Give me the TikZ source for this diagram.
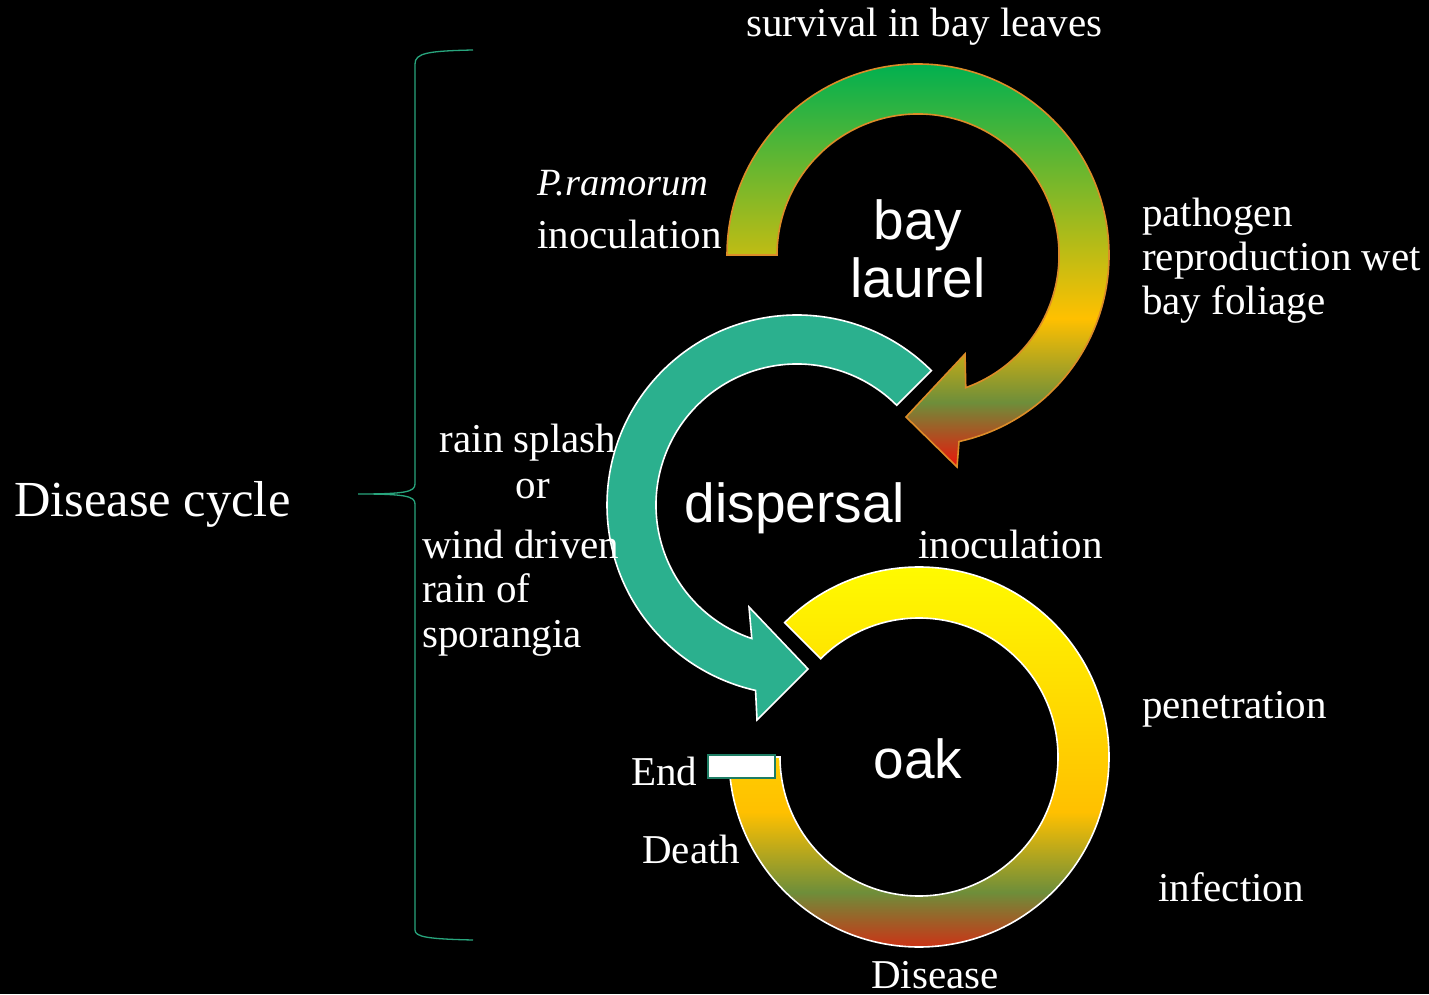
\documentclass[tikz,border=0pt]{standalone}
\usepackage{fontspec}
\setmainfont{Liberation Serif}
\newfontfamily\sansf{Liberation Sans}
\definecolor{tealc}{RGB}{43,176,142}
\definecolor{bracec}{RGB}{40,165,125}
\definecolor{bayline}{RGB}{220,140,40}
\definecolor{endline}{RGB}{30,125,100}
\definecolor{redc}{RGB}{235,20,10}
\definecolor{olivec}{RGB}{110,142,58}
\definecolor{orangec}{RGB}{255,192,0}
\definecolor{greenc}{RGB}{0,176,80}
\definecolor{yellowc}{RGB}{255,255,0}
\pgfdeclareverticalshading{bayshade}{100bp}{color(0bp)=(redc); color(25bp)=(redc); color(33bp)=(olivec); color(43.4bp)=(orangec); color(75bp)=(greenc); color(100bp)=(greenc)}
\pgfdeclareverticalshading{oakshade}{100bp}{color(0bp)=(redc); color(25bp)=(redc); color(33.8bp)=(olivec); color(43.4bp)=(orangec); color(75bp)=(yellowc); color(100bp)=(yellowc)}
\tikzset{
  serif/.style={text=white, inner sep=0pt, font=\fontsize{41}{45}\selectfont},
  italserif/.style={text=white, inner sep=0pt, font=\fontsize{38.5}{42}\selectfont\itshape},
  bigserif/.style={text=white, inner sep=0pt, font=\fontsize{50.5}{55}\selectfont},
  sanslbl/.style={text=white, inner sep=0pt, font=\sansf\fontsize{55}{60}\selectfont},
  ring/.style={line width=1.6pt, line join=miter},
  bracestyle/.style={draw=bracec, line width=1.3pt},
}
\begin{document}
\begin{tikzpicture}[x=1pt,y=1pt]
\fill[black] (0,0) rectangle (1429,994);
\useasboundingbox (0,0) rectangle (1429,994);
\coordinate (B) at (918,739);
\coordinate (D) at (797,489);
\coordinate (O) at (919,237);

% dispersal arrow
\path[fill=tealc, draw=white, ring]
  ([shift={(45:190)}]D) arc[start angle=45,end angle=257.4,radius=190]
  -- (757,274) -- (808,325) -- (749,387)
  -- ([shift={(251.3:141)}]D) arc[start angle=251.3,end angle=45,radius=141] -- cycle;

% bay laurel arrow
\path[draw=bayline, ring, path picture={\shade[shading=bayshade] (700,527) rectangle (1130,931);}]
  ([shift={(180:191)}]B) arc[start angle=180,end angle=-77.6,radius=191]
  -- (957,527) -- (906,577) -- (965,640)
  -- ([shift={(-70.2:141)}]B) arc[start angle=-70.2,end angle=180,radius=141] -- cycle;

% oak ring
\path[draw=white, ring, path picture={\shade[shading=oakshade] (700,47) rectangle (1130,427);}]
  ([shift={(135:190)}]O) arc[start angle=135,end angle=-180,radius=190]
  -- ([shift={(180:139)}]O) arc[start angle=-180,end angle=135,radius=139] -- cycle;

\node (endbox) [draw=endline, line width=2pt, fill=white, minimum width=67pt, minimum height=23pt, inner sep=0pt] at (741.5,227.5) {};

% brace
\path[bracestyle] (473,944) .. controls (428,943) and (415,941) .. (415,930)
  -- (415,510) .. controls (415,502) and (405,500) .. (358,500)
  .. controls (405,500) and (415,498) .. (415,490)
  -- (415,64) .. controls (415,57) and (428,55) .. (473,54);

% sans labels
\node (bay) [sanslbl, anchor=base] at (918,754) {bay};
\node (laurel) [sanslbl, anchor=base] at (918,696) {laurel};
\node (disp) [sanslbl, anchor=base] at (795,471) {dispersal};
\node (oak) [sanslbl, anchor=base] at (918,216) {oak};

% serif labels
\node (surv) [serif, anchor=base west] at (746,957) {survival in bay leaves};
\node (pram) [italserif, anchor=base west] at (537,798) {P.ramorum};
\node (inoc1) [serif, anchor=base west] at (537,745) {inoculation};
\node (path1) [serif, anchor=base west] at (1142,767) {pathogen};
\node (path2) [serif, anchor=base west] at (1142,723) {reproduction wet};
\node (path3) [serif, anchor=base west] at (1142,679) {bay foliage};
\node (rain1) [serif, anchor=base] at (528,541) {rain splash};
\node (rain2) [serif, anchor=base] at (533,495) {or};
\node (wind1) [serif, anchor=base west] at (422,435) {wind driven};
\node (wind2) [serif, anchor=base west] at (422,391) {rain of};
\node (wind3) [serif, anchor=base west] at (422,346) {sporangia};
\node (cycle) [bigserif, anchor=base west] at (14,477) {Disease cycle};
\node (inoc2) [serif, anchor=base west] at (918,435) {inoculation};
\node (pen) [serif, anchor=base west] at (1142,276) {penetration};
\node (inf) [serif, anchor=base west] at (1158,93) {infection};
\node (dis) [serif, anchor=base west] at (871,6) {Disease};
\node (death) [serif, anchor=base west] at (642,131) {Death};
\node (endl) [serif, anchor=base west] at (631,209) {End};
\end{tikzpicture}
\end{document}
